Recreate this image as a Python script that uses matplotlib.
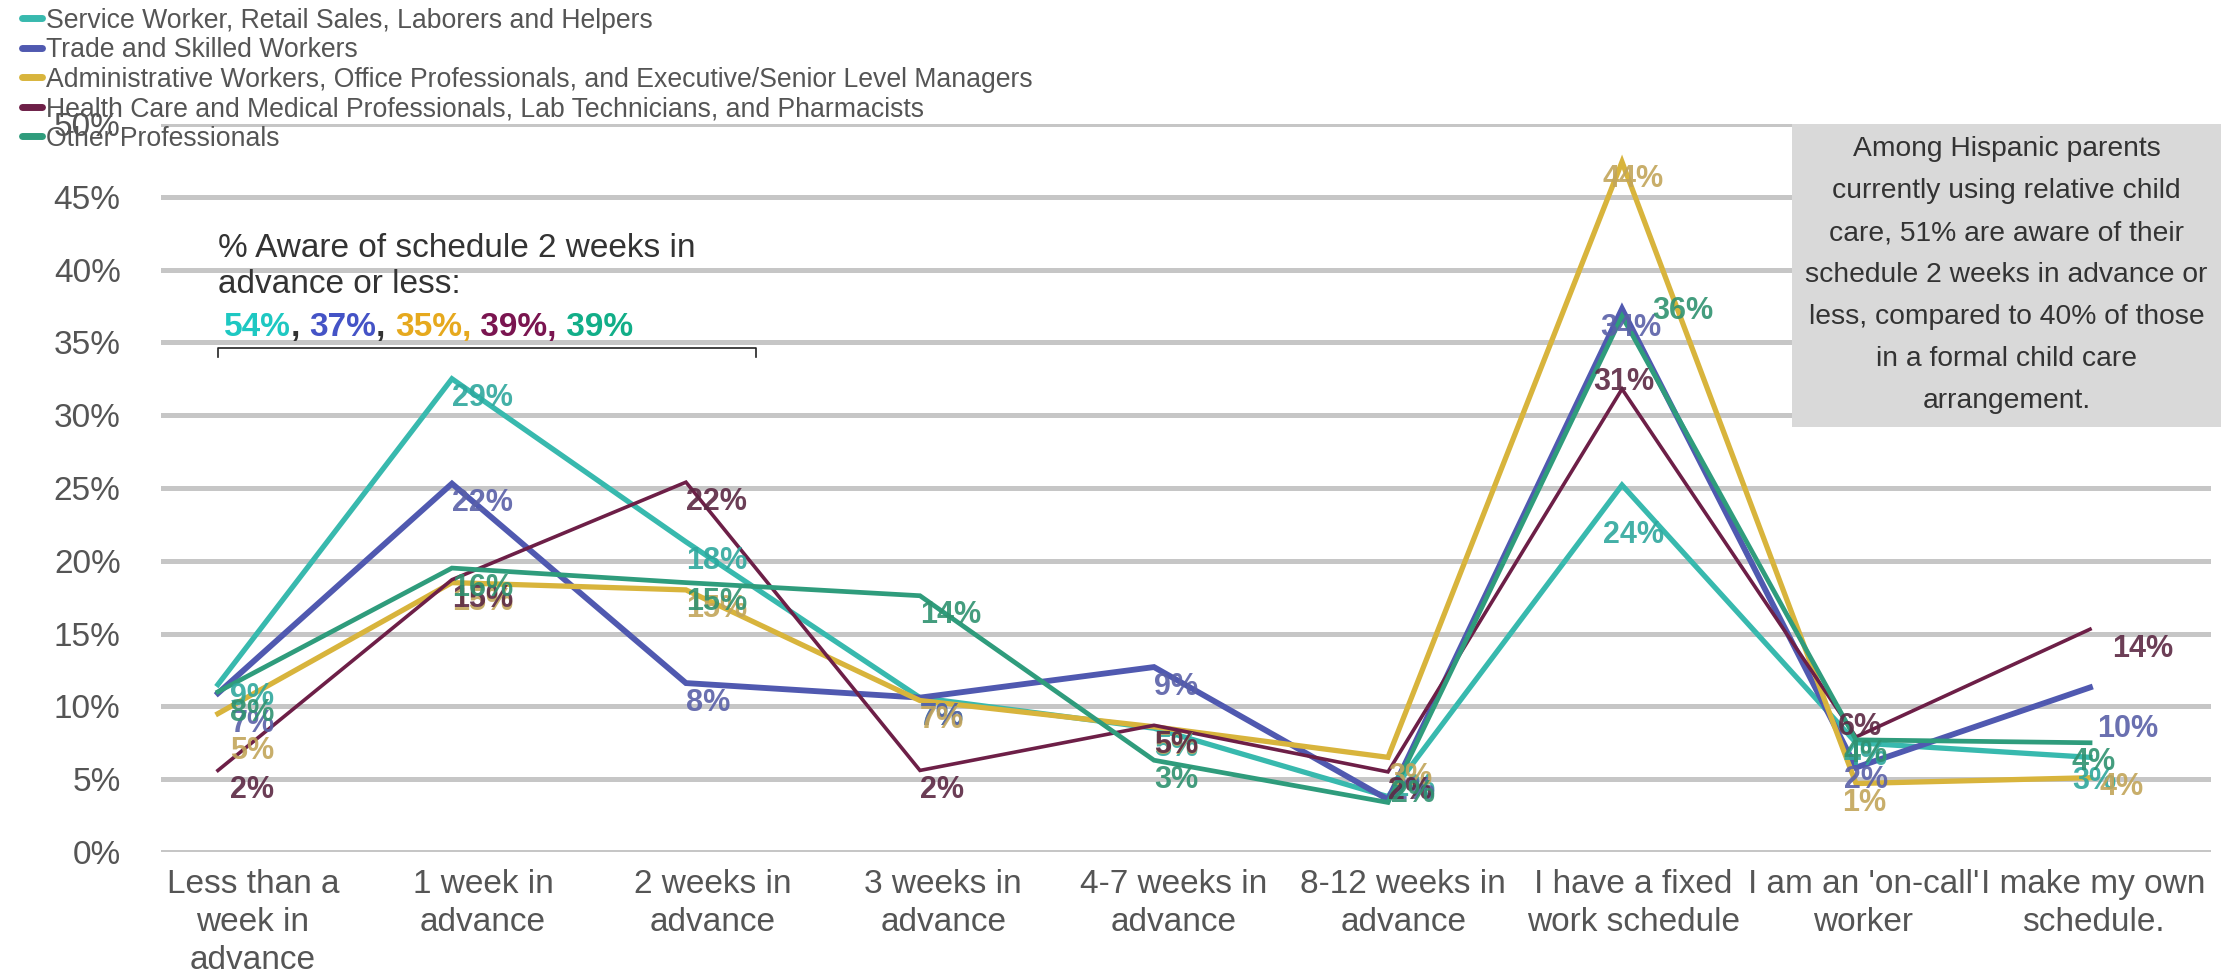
import matplotlib
matplotlib.use("Agg")
import matplotlib.pyplot as plt
from matplotlib.lines import Line2D
from matplotlib.patches import Rectangle

plt.rcParams["font.family"] = ["Liberation Sans", "DejaVu Sans"]

categories = ["Less than a\nweek in\nadvance", "1 week in\nadvance", "2 weeks in\nadvance",
              "3 weeks in\nadvance", "4-7 weeks in\nadvance", "8-12 weeks in\nadvance",
              "I have a fixed\nwork schedule", "I am an 'on-call'\nworker", "I make my own\nschedule."]

names = ["Service Worker, Retail Sales, Laborers and Helpers",
         "Trade and Skilled Workers",
         "Administrative Workers, Office Professionals, and Executive/Senior Level Managers",
         "Health Care and Medical Professionals, Lab Technicians, and Pharmacists",
         "Other Professionals"]

# line heights as drawn (%)
service = [11.5, 32.5, 21.3, 10.6, 8.5, 3.8, 25.2, 7.5, 6.5]
trade = [10.9, 25.3, 11.6, 10.6, 12.7, 3.6, 37.3, 5.8, 11.3]
admin = [9.5, 18.5, 18.0, 10.4, 8.6, 6.5, 47.4, 4.7, 5.1]
health = [5.6, 18.7, 25.4, 5.6, 8.7, 5.5, 31.8, 7.9, 15.3]
other = [11.0, 19.5, 18.5, 17.6, 6.3, 3.4, 36.8, 7.7, 7.5]

# data labels as printed
service_lbl = ["9%", "29%", "18%", "7%", "5%", "1%", "24%", "4%", "3%"]
trade_lbl = ["7%", "22%", "8%", "7%", "9%", "2%", "34%", "2%", "10%"]
admin_lbl = ["5%", "15%", "15%", "7%", "5%", "3%", "44%", "1%", "4%"]
health_lbl = ["2%", "15%", "22%", "2%", "5%", "2%", "31%", "6%", "14%"]
other_lbl = ["8%", "16%", "15%", "14%", "3%", "2%", "36%", "4%", "4%"]

aware = ["54%", "37%", "35%", "39%", "39%"]

values = [service, trade, admin, health, other]
labels = [service_lbl, trade_lbl, admin_lbl, health_lbl, other_lbl]
colors = ["#38B9AE", "#5059B0", "#D8B43C", "#6D1F47", "#2F9C7C"]
label_colors = ["#2FA89E", "#5A60A8", "#C2A55A", "#5C2944", "#2F9270"]
aware_colors = ["#1EC8C2", "#4453C6", "#E6A91E", "#7A1550", "#12AE88"]
widths = [3.8, 4.2, 3.8, 2.6, 3.4]
draw_order = [3, 4, 0, 1, 2]

# label offsets in points (series, category) -> (dx, dy)
default_off = (0, -14)
offsets = {
    (0, 0): (9, -9), (1, 0): (9, -22), (2, 0): (9, -27), (3, 0): (9, -14), (4, 0): (9, -15),
    (0, 5): (2, 6), (1, 5): (2, 6), (4, 5): (2, 6),
    (0, 6): (-14, -36), (1, 6): (-16, -14), (2, 6): (-14, -12), (3, 6): (-21, 5), (4, 6): (22, 4),
    (0, 7): (-9, -10), (1, 7): (-9, -9), (2, 7): (-10, -14), (3, 7): (-13, 7), (4, 7): (-9, -10),
    (0, 8): (-13, -17), (1, 8): (5, -30), (2, 8): (7, -7), (3, 8): (16, -14), (4, 8): (-13, -14),
}

fig = plt.figure(figsize=(22.32, 9.72), dpi=100)
ax = fig.add_axes([0.0721, 0.1235, 0.9185, 0.7489])

x = list(range(len(categories)))
for s in draw_order:
    ax.plot(x, values[s], color=colors[s], lw=widths[s], solid_joinstyle="miter", zorder=3 + s * 0.1)

for s in range(len(values)):
    for i, v in enumerate(values[s]):
        dx, dy = offsets.get((s, i), default_off)
        ax.annotate(labels[s][i], (i, v), xytext=(dx, dy), textcoords="offset points",
                    ha="left", va="center", fontsize=22, fontweight="bold",
                    color=label_colors[s], alpha=0.9, zorder=5)

ax.set_xlim(-0.2436, 8.517)
ax.set_ylim(0, 50)
ax.set_yticks(range(0, 51, 5))
ax.set_yticklabels([f"{t}%" for t in range(0, 51, 5)])
# category captions sit on a slightly tighter pitch than the points
ax.set_xticks([0.15 + 0.983 * i for i in x])
ax.set_xticklabels(categories, linespacing=1.3)
ax.tick_params(axis="y", length=0, pad=29, labelsize=24, labelcolor="#555555")
ax.tick_params(axis="x", length=0, pad=12, labelsize=24, labelcolor="#555555")

ax.grid(axis="y", color="#C6C6C6", lw=3.6, zorder=1)
ax.set_axisbelow(True)
for sp in ax.spines.values():
    sp.set_visible(False)

# annotation over the first three categories
ax.text(0.0, 40.2, "% Aware of schedule 2 weeks in\nadvance or less:", fontsize=24,
        color="#333333", va="center", ha="left", linespacing=1.23, zorder=6)
pieces = [(aware[0], aware_colors[0]), (", ", "#333333"), (aware[1], aware_colors[1]),
          (", ", "#333333"), (aware[2] + ",", aware_colors[2]), (" " + aware[3] + ",", aware_colors[3]),
          (" " + aware[4], aware_colors[4])]
t = ax.text(0.026, 36.0, pieces[0][0], color=pieces[0][1], fontsize=24, fontweight="bold",
            va="center", ha="left", zorder=6)
for txt, col in pieces[1:]:
    t = ax.annotate(txt, xy=(1, 0), xycoords=t, va="bottom", ha="left", color=col,
                    fontsize=24, fontweight="bold", zorder=6)
ax.plot([0.0, 0.0, 2.30, 2.30], [34.0, 34.6, 34.6, 34.0], color="#222222", lw=1.2, zorder=6)

# grey note box
fig.patches.append(Rectangle((0.8029, 0.5607), 0.1922, 0.3117, transform=fig.transFigure,
                             facecolor="#D9D9D9", edgecolor="none", zorder=10))
fig.text(0.899, 0.7166, "Among Hispanic parents\ncurrently using relative child\ncare, 51% are aware of their\n"
         "schedule 2 weeks in advance or\nless, compared to 40% of those\nin a formal child care\narrangement.",
         ha="center", va="center", fontsize=20.3, color="#333333", linespacing=1.8, zorder=11)

handles = [Line2D([0], [0], color=c, lw=5, solid_capstyle="round") for c in colors]
fig.legend(handles, names, loc="upper left", bbox_to_anchor=(0.0099, 0.992), frameon=False,
           fontsize=19.2, labelcolor="#555555", handlelength=0.75, handletextpad=0.15,
           labelspacing=0.13, borderpad=0, borderaxespad=0)

fig.savefig("out.png", dpi=100)
